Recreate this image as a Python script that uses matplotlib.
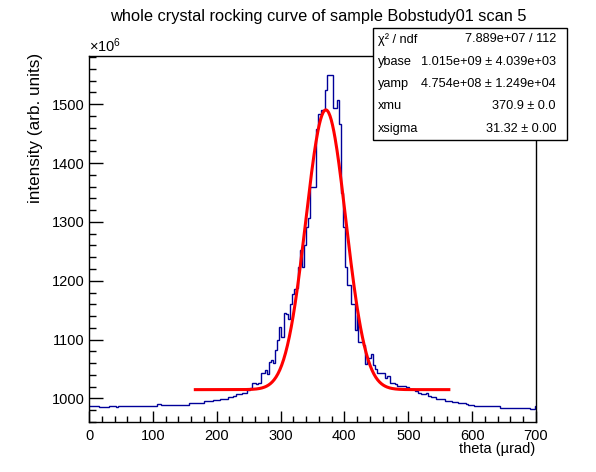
import numpy as np
import matplotlib
matplotlib.use("Agg")
import matplotlib.pyplot as plt
from matplotlib.ticker import MultipleLocator

plt.rcParams['font.family'] = ['Liberation Sans', 'DejaVu Sans']
plt.rcParams['mathtext.fontset'] = 'custom'
plt.rcParams['mathtext.rm'] = 'Liberation Sans'
plt.rcParams['mathtext.it'] = 'Liberation Sans:italic'

# histogram step edges (µrad) and intensities (x1e6)
edges = [0, 15, 31, 43, 46, 107, 113, 157, 170, 180, 194, 205, 217, 225, 230,
         240, 248, 252, 256, 262, 265, 270, 276, 279, 282, 285, 288, 292, 295,
         298, 301, 305, 308, 311, 315, 318, 321, 324, 327, 330, 333, 336, 340,
         343, 346, 355, 358, 364, 369, 372, 379, 382, 388, 391, 394, 397, 401,
         404, 410, 416, 420, 422, 429, 432, 435, 441, 444, 448, 451, 464, 467,
         471, 479, 483, 497, 501, 510, 515, 520, 528, 531, 536, 543, 557, 568,
         578, 590, 594, 603, 620, 644, 690, 698, 700]
values = [987, 986, 987, 986, 987.5, 989.8, 989.5, 992, 993, 995.4, 997.5, 999.5,
          1003, 1004, 1008, 1010, 1013.6, 1018, 1026, 1024, 1026.6, 1043.6, 1049,
          1041, 1062, 1064.6, 1060, 1083, 1100, 1121, 1104, 1146, 1143, 1135,
          1161, 1178, 1186, 1188, 1224, 1252, 1224, 1260, 1291, 1307, 1360, 1458,
          1484, 1490, 1524, 1550, 1549, 1494, 1508, 1467, 1350, 1292, 1223, 1192,
          1161, 1116, 1141, 1096, 1091, 1059, 1069, 1076, 1057, 1050, 1043, 1035,
          1039, 1027, 1025, 1021, 1019.7, 1015.3, 1012, 1010, 1008, 1009, 1005,
          1002.3, 999, 995.5, 994.4, 992.6, 990, 988.7, 988, 986.4, 984.2, 982.6,
          988]

# fit parameters (stats box)
ybase = 1015.0
yamp = 475.4
xmu = 370.9
xsigma = 31.32
fit_range = (166.5, 563.5)

stat_labels = ["χ² / ndf", "ybase", "yamp", "xmu", "xsigma"]
stat_values = ["7.889e+07 / 112", "1.015e+09 ± 4.039e+03",
               "4.754e+08 ± 1.249e+04", "370.9 ± 0.0", "31.32 ± 0.00"]

W, H = 596, 472
fig = plt.figure(figsize=(W / 100, H / 100), dpi=100)
ax = fig.add_axes([89 / W, 1 - 422 / H, (536 - 89) / W, (422 - 56) / H])

ax.stairs(values, edges, color='#000099', lw=1.0, baseline=None)
xf = np.linspace(fit_range[0], fit_range[1], 400)
yf = ybase + yamp * np.exp(-0.5 * ((xf - xmu) / xsigma) ** 2)
ax.plot(xf, yf, color='#ff0000', lw=2.2)

ax.set_xlim(0, 700)
ax.set_ylim(960, 1582)
ax.xaxis.set_major_locator(MultipleLocator(100))
ax.xaxis.set_minor_locator(MultipleLocator(20))
ax.yaxis.set_major_locator(MultipleLocator(100))
ax.yaxis.set_minor_locator(MultipleLocator(20))
ax.tick_params(axis='both', which='both', direction='in', top=False, right=False,
               labelsize=10.5, width=1)
ax.tick_params(axis='x', which='major', length=8, pad=5)
ax.tick_params(axis='x', which='minor', length=4.5)
ax.tick_params(axis='y', which='major', length=10, pad=3)
ax.tick_params(axis='y', which='minor', length=5)
for s in ax.spines.values():
    s.set_linewidth(1)

ax.text(0, 1.004, r'$\times10^{6}$', transform=ax.transAxes, fontsize=10.5,
        ha='left', va='bottom')
fig.text(535 / W, 1 - 449 / H, 'theta (µrad)', ha='right', va='center', fontsize=10.5)
fig.text(36 / W, 1 - 53 / H, 'intensity (arb. units)', rotation=90, ha='center',
         va='top', fontsize=12.3)
fig.text(318 / W, 1 - 16 / H, 'whole crystal rocking curve of sample Bobstudy01 scan 5',
         ha='center', va='center', fontsize=11.8)

# stats box
bx0, bx1, by0, by1 = 373, 567, 28, 140
box = plt.Rectangle((bx0 / W, 1 - by1 / H), (bx1 - bx0) / W, (by1 - by0) / H,
                    transform=fig.transFigure, facecolor='white', edgecolor='black',
                    lw=1, zorder=5)
fig.patches.append(box)
row_h = (by1 - by0) / len(stat_labels)
for i, (lab, val) in enumerate(zip(stat_labels, stat_values)):
    yc = by0 + row_h * (i + 0.5)
    fig.text(378 / W, 1 - yc / H, lab, ha='left', va='center', fontsize=9.2, zorder=6)
    fig.text(556 / W, 1 - yc / H, val, ha='right', va='center', fontsize=9.2, zorder=6)

fig.savefig('out.png', dpi=100)
